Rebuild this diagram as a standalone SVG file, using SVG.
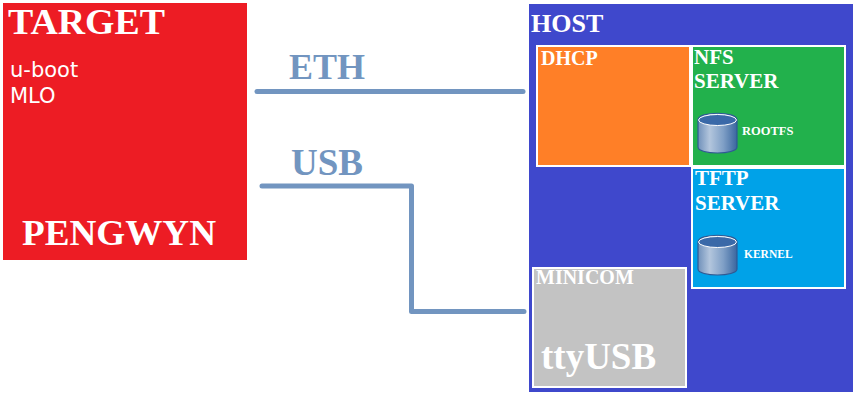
<svg xmlns="http://www.w3.org/2000/svg" width="861" height="401" viewBox="0 0 861 401">
<style>
.s{font-family:"Liberation Serif","Times New Roman",serif;font-weight:bold;fill:#fff}
.d{font-family:"DejaVu Sans",sans-serif;fill:#fff}
.l{font-family:"Liberation Serif","Times New Roman",serif;font-weight:bold;fill:#7295c0}
.b{stroke:#fff;stroke-width:2}
.w{fill:none;stroke:#7295c0;stroke-width:5;stroke-linecap:round;stroke-linejoin:round}
</style>
<defs>
<linearGradient id="cg" x1="0" x2="1" y1="0" y2="0">
<stop offset="0" stop-color="#6f90ba"/><stop offset=".3" stop-color="#b3c6dd"/><stop offset=".65" stop-color="#7f9fc6"/><stop offset="1" stop-color="#3a669f"/>
</linearGradient>
<g id="cyl">
<path d="M0 7C0 -2 39 -2 39 7V34C39 42 0 42 0 34Z" fill="url(#cg)" stroke="#2f5a94" stroke-width="1.2"/>
<ellipse cx="19.500" cy="7" rx="19" ry="5.500" fill="#3a69a8" stroke="#fff" stroke-width="1"/>
</g>
</defs>
<g id="target">
<rect x="3" y="3" width="244" height="257" fill="#ed1c24"/>
<text class="s" x="8" y="34" font-size="36" textLength="157" lengthAdjust="spacingAndGlyphs">TARGET</text>
<text class="d" x="10" y="77" font-size="21">u-boot</text>
<text class="d" x="10" y="103" font-size="21">MLO</text>
<text class="s" x="22" y="245" font-size="36" textLength="194" lengthAdjust="spacingAndGlyphs">PENGWYN</text>
</g>
<g id="host">
<rect x="529" y="4" width="324" height="388" fill="#3f48cc"/>
<text class="s" x="531" y="32" font-size="26">HOST</text>
</g>
<g id="dhcp">
<rect class="b" x="537" y="46" width="153" height="120" fill="#ff7f27"/>
<text class="s" x="541" y="65" font-size="20">DHCP</text>
</g>
<g id="nfs">
<rect class="b" x="692" y="46" width="153" height="120" fill="#22b14c"/>
<text class="s" x="694" y="64" font-size="21">NFS</text>
<text class="s" x="694" y="88" font-size="21">SERVER</text>
<use href="#cyl" x="698" y="113"/>
<text class="s" x="742" y="135" font-size="12.500">ROOTFS</text>
</g>
<g id="tftp">
<rect class="b" x="692" y="168" width="153" height="120" fill="#00a2e8"/>
<text class="s" x="695" y="185" font-size="21">TFTP</text>
<text class="s" x="695" y="210" font-size="21">SERVER</text>
<use href="#cyl" x="698" y="235"/>
<text class="s" x="744" y="258" font-size="11.500">KERNEL</text>
</g>
<g id="minicom">
<rect class="b" x="533" y="268" width="153" height="119" fill="#c3c3c3"/>
<text class="s" x="536" y="284" font-size="20">MINICOM</text>
<text class="s" x="541" y="369" font-size="37">ttyUSB</text>
</g>
<g id="connectors">
<path class="w" d="M257 91.500H523"/>
<path class="w" d="M262 186H411.500V311.500H524"/>
<text class="l" x="289" y="79" font-size="36">ETH</text>
<text class="l" x="291" y="175" font-size="37">USB</text>
</g>
</svg>
